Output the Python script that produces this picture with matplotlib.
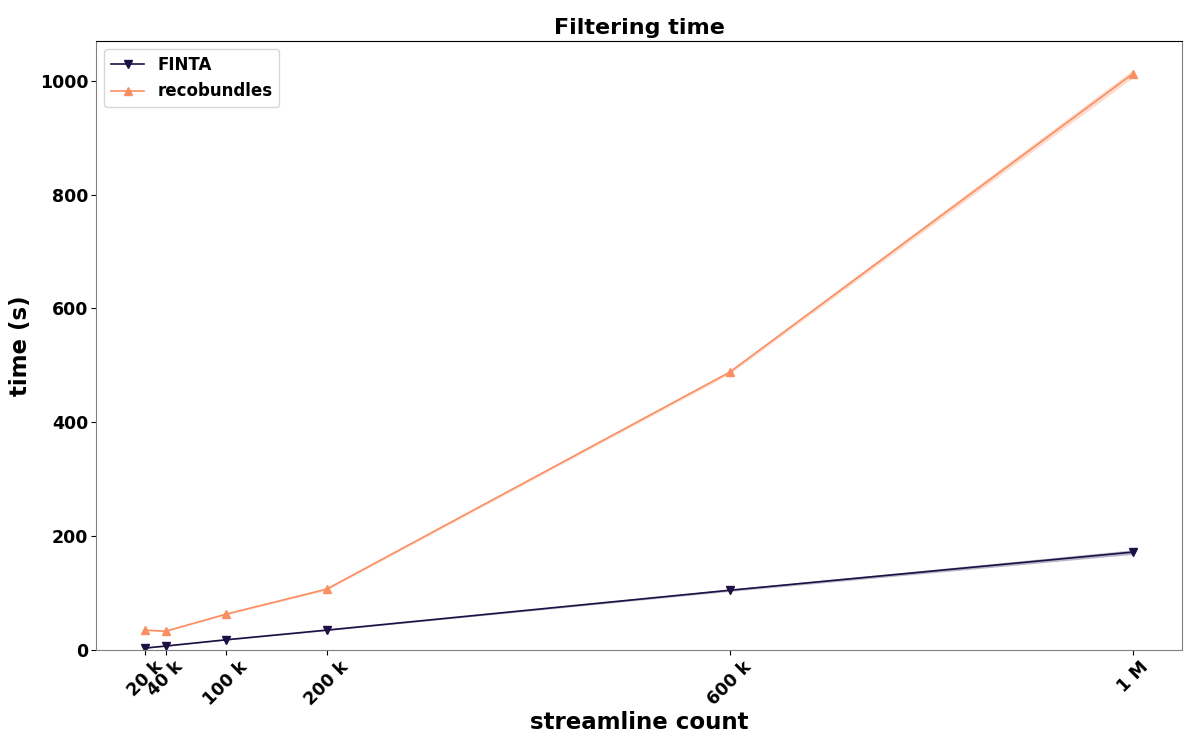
import matplotlib
matplotlib.use('Agg')
import matplotlib.pyplot as plt
import numpy as np

# streamline counts (in thousands) and filtering time (s)
counts = [20, 40, 100, 200, 600, 1000]
count_labels = ['20 k', '40 k', '100 k', '200 k', '600 k', '1 M']
finta_time = [3.5, 7, 18, 35, 105, 172]
finta_spread = [0.5, 0.6, 0.8, 1.0, 2.0, 4.0]
reco_time = [35, 33, 63, 107, 488, 1012]
reco_spread = [1.0, 1.0, 1.5, 2.0, 3.0, 7.0]

FINTA_COLOR = '#1c1044'
RECO_COLOR = '#fa8f62'

fig = plt.figure(figsize=(12, 7.5), dpi=100)
ax = fig.add_axes([0.08, 0.1333, 0.905, 0.812])

x = np.array(counts) * 1000
for vals, spread, color, marker, label in [
        (finta_time, finta_spread, FINTA_COLOR, 'v', 'FINTA'),
        (reco_time, reco_spread, RECO_COLOR, '^', 'recobundles')]:
    v = np.array(vals)
    s = np.array(spread)
    ax.plot(x, v, color=color, marker=marker, markersize=6, linewidth=1.2, label=label)
    ax.fill_between(x, v - s, v + s, color=color, alpha=0.3, linewidth=0)

ax.set_ylim(bottom=0)
ax.set_xticks(x)
ax.set_xticklabels(count_labels, rotation=45, fontsize=12.5, fontweight='bold')
ax.tick_params(axis='both', length=3.5, width=0.8, pad=2)
ax.tick_params(axis='y', labelsize=12.5)
plt.setp(ax.get_yticklabels(), fontweight='bold')

ax.set_title('Filtering time', fontsize=16, fontweight='bold', pad=5)
ax.set_xlabel('streamline count', fontsize=16.5, fontweight='bold', labelpad=2)
ax.set_ylabel('time (s)', fontsize=16.5, fontweight='bold', labelpad=6)

for side in ['left', 'bottom', 'right']:
    ax.spines[side].set_color('#808080')
ax.spines['top'].set_color('black')

leg = ax.legend(loc='upper left', prop={'weight': 'bold', 'size': 12})

fig.savefig('out.png', dpi=100)
